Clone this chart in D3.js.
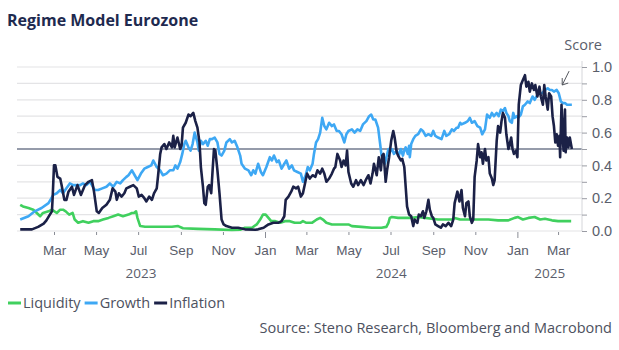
<!DOCTYPE html>
<html>
<head>
<meta charset="utf-8">
<script src="https://cdn.jsdelivr.net/npm/d3@7"></script>
<style>
  body { margin: 0; background: #fff; }
  svg { display: block; font-family: "Open Sans", sans-serif; }
</style>
</head>
<body>
<div id="chart"></div>
<script>
// [day since 2023-01-01, score]
const liquidity = [[10,.16],[14,.15],[22,.14],[29,.13],[34,.11],[39,.09],[43,.11],[51,.12],[56,.13],[63,.11],[68,.13],[72,.13],[76,.12],[81,.10],[86,.11],[89,.07],[94,.05],[101,.06],[109,.05],[116,.06],[123,.06],[130,.07],[138,.08],[145,.09],[152,.10],[159,.09],[167,.10],[172,.11],[175,.11],[178,.12],[180,.08],[184,.03],[191,.026],[210,.026],[230,.026],[239,.03],[246,.017],[268,.013],[292,.01],[317,.006],[329,.008],[336,.02],[346,.02],[353,.04],[358,.07],[362,.10],[366,.10],[370,.08],[374,.06],[380,.06],[387,.05],[394,.06],[401,.06],[408,.05],[416,.05],[420,.06],[425,.05],[433,.05],[440,.07],[445,.08],[449,.07],[454,.05],[462,.04],[469,.04],[476,.04],[486,.04],[491,.03],[505,.025],[520,.02],[534,.02],[541,.025],[544,.05],[546,.08],[549,.085],[558,.08],[568,.08],[578,.08],[587,.085],[597,.08],[607,.075],[616,.07],[626,.07],[636,.07],[640,.08],[648,.07],[660,.07],[674,.07],[689,.07],[703,.065],[718,.065],[727,.08],[732,.085],[739,.07],[747,.08],[756,.085],[764,.07],[771,.075],[781,.065],[790,.06],[800,.06],[809,.06]]

const growth = [[10,.07],[22,.09],[31,.12],[41,.14],[51,.17],[58,.22],[63,.23],[68,.25],[72,.23],[77,.26],[82,.29],[87,.28],[92,.28],[97,.28],[101,.29],[106,.28],[111,.30],[114,.28],[118,.25],[123,.25],[129,.26],[135,.27],[140,.29],[145,.27],[150,.30],[155,.29],[159,.31],[164,.33],[167,.34],[172,.37],[176,.34],[180,.31],[185,.35],[190,.38],[195,.39],[200,.40],[203,.43],[208,.39],[213,.37],[217,.34],[222,.35],[227,.37],[232,.37],[235,.40],[238,.38],[242,.42],[245,.47],[248,.53],[250,.55],[254,.51],[257,.49],[260,.53],[263,.60],[267,.54],[269,.49],[272,.55],[275,.53],[279,.55],[282,.52],[285,.56],[288,.56],[292,.57],[296,.54],[299,.47],[302,.46],[306,.49],[309,.54],[314,.56],[317,.54],[321,.55],[325,.51],[329,.46],[331,.41],[336,.38],[341,.37],[345,.34],[348,.37],[351,.35],[355,.41],[359,.36],[362,.34],[367,.39],[372,.45],[375,.43],[378,.46],[382,.42],[385,.43],[389,.38],[393,.41],[396,.43],[400,.38],[404,.40],[407,.37],[412,.36],[417,.35],[420,.30],[424,.34],[427,.39],[430,.37],[434,.41],[436,.47],[439,.54],[442,.56],[445,.60],[448,.69],[451,.64],[454,.62],[458,.66],[462,.64],[465,.65],[469,.61],[472,.61],[476,.59],[480,.54],[483,.59],[486,.61],[491,.62],[495,.60],[499,.62],[503,.61],[507,.65],[512,.67],[516,.70],[519,.71],[522,.68],[525,.68],[529,.63],[532,.53],[534,.46],[536,.45],[539,.41],[541,.45],[544,.50],[546,.48],[549,.50],[552,.47],[556,.49],[559,.46],[562,.50],[565,.46],[567,.49],[569,.51],[572,.47],[574,.52],[575,.45],[577,.53],[580,.56],[583,.58],[587,.59],[591,.62],[594,.61],[598,.58],[602,.59],[606,.58],[609,.61],[612,.58],[616,.57],[621,.56],[625,.61],[628,.58],[632,.59],[636,.62],[639,.61],[643,.63],[645,.63],[648,.66],[650,.65],[655,.66],[659,.67],[662,.69],[665,.66],[669,.67],[673,.64],[677,.63],[680,.59],[684,.62],[687,.71],[691,.69],[694,.72],[697,.70],[701,.72],[704,.70],[707,.74],[710,.73],[713,.75],[715,.72],[718,.70],[720,.67],[723,.66],[725,.72],[727,.69],[730,.70],[732,.69],[736,.71],[739,.76],[742,.77],[746,.79],[749,.78],[753,.82],[756,.80],[760,.83],[764,.84],[767,.84],[771,.86],[775,.87],[778,.86],[781,.86],[784,.85],[788,.86],[791,.84],[794,.79],[797,.78],[800,.78],[803,.77],[806,.77],[810,.77]]

const inflation = [[10,.01],[27,.01],[36,.025],[44,.045],[48,.065],[53,.10],[56,.12],[57,.20],[59,.40],[61,.40],[64,.33],[68,.32],[70,.28],[74,.19],[77,.19],[80,.24],[85,.27],[88,.22],[93,.28],[98,.22],[104,.28],[109,.30],[114,.31],[117,.24],[121,.12],[124,.11],[129,.14],[135,.16],[140,.19],[144,.26],[148,.24],[150,.19],[153,.23],[157,.21],[161,.23],[164,.26],[169,.27],[174,.28],[179,.26],[182,.21],[186,.22],[190,.20],[193,.18],[197,.21],[201,.19],[204,.23],[208,.26],[210,.34],[213,.47],[215,.51],[219,.53],[222,.50],[226,.54],[230,.51],[232,.58],[234,.51],[238,.57],[242,.50],[244,.52],[246,.63],[250,.66],[254,.71],[257,.70],[261,.72],[264,.67],[267,.63],[270,.54],[272,.39],[275,.27],[277,.17],[279,.16],[282,.27],[284,.28],[287,.23],[289,.37],[291,.50],[293,.49],[296,.37],[299,.23],[302,.07],[305,.04],[309,.03],[317,.02],[326,.02],[336,.01],[351,.008],[355,.01],[363,.02],[370,.04],[377,.05],[384,.05],[389,.06],[393,.09],[395,.19],[399,.21],[403,.24],[406,.27],[410,.26],[413,.27],[417,.21],[420,.23],[423,.29],[426,.35],[430,.32],[434,.34],[438,.33],[441,.37],[445,.35],[448,.38],[451,.35],[454,.30],[458,.32],[462,.35],[465,.38],[467,.39],[470,.47],[474,.43],[476,.39],[479,.43],[482,.40],[484,.49],[486,.36],[490,.29],[493,.27],[497,.31],[500,.28],[504,.31],[508,.28],[511,.31],[515,.34],[518,.29],[521,.35],[523,.41],[527,.34],[530,.45],[533,.37],[535,.46],[537,.47],[540,.30],[542,.37],[545,.45],[548,.55],[551,.61],[553,.57],[556,.48],[558,.46],[562,.43],[564,.44],[567,.39],[569,.27],[571,.15],[574,.10],[577,.09],[580,.03],[582,.07],[586,.05],[588,.10],[591,.09],[594,.12],[596,.08],[599,.12],[602,.19],[604,.13],[607,.09],[609,.08],[612,.04],[616,.03],[620,.02],[623,.04],[627,.03],[631,.05],[635,.03],[638,.07],[640,.17],[644,.24],[647,.18],[650,.25],[652,.14],[655,.09],[657,.17],[660,.18],[662,.09],[665,.05],[667,.07],[669,.33],[672,.43],[674,.53],[677,.45],[679,.48],[681,.41],[684,.50],[686,.43],[689,.45],[691,.35],[694,.32],[696,.28],[698,.31],[701,.55],[703,.64],[706,.60],[708,.67],[710,.72],[713,.69],[715,.59],[718,.50],[719,.51],[722,.57],[724,.50],[726,.47],[729,.49],[731,.45],[733,.77],[736,.89],[739,.92],[742,.95],[744,.88],[747,.91],[749,.85],[752,.90],[755,.86],[757,.89],[760,.82],[763,.88],[765,.82],[768,.77],[770,.89],[772,.82],[775,.74],[777,.84],[780,.82],[782,.70],[784,.64],[786,.54],[788,.59],[790,.52],[792,.58],[793,.45],[795,.77],[797,.55],[798,.49],[800,.74],[801,.48],[803,.57],[805,.51],[807,.57],[810,.50]]

const seriesNames = ["Liquidity", "Growth", "Inflation"]
const seriesColors = ["#40d05e", "#3ea8f4", "#1b2147"]
const gridTicks = [0, .1, .2, .3, .4, .5, .6, .7, .8, .9, 1]
const labelTicks = [0, .2, .4, .6, .8, 1]
const years = [2023, 2024, 2025]
const threshold = 0.5
const origin = new Date(2023, 0, 1)

const chart = function (id) {
    const width = 619
    const height = 350
    const svg = d3.select("#" + id)
        .append("svg")
        .attr("width", width)
        .attr("height", height)

    const day = d => d3.timeHour.offset(origin, Math.round(d * 24))

    const x = d3.scaleTime()
        .domain([day(5.35), day(824.7)])
        .range([17, 582])
    const y = d3.scaleLinear()
        .domain([0, 1])
        .range([231, 67])

    const layer_grid = svg.append("g")
    const layer_axes = svg.append("g")
    const layer_lines = svg.append("g")
    const layer_text = svg.append("g")

    // gridlines
    layer_grid.selectAll("line")
        .data(gridTicks)
        .enter().append("line")
        .attr("x1", x.range()[0])
        .attr("x2", x.range()[1])
        .attr("y1", d => y(d))
        .attr("y2", d => y(d))
        .attr("stroke", "#e4e4e6")
        .attr("stroke-width", 1.2)

    layer_grid.append("line")
        .attr("x1", x.range()[0])
        .attr("x2", x.range()[1])
        .attr("y1", y(threshold))
        .attr("y2", y(threshold))
        .attr("stroke", "#3b4663")
        .attr("stroke-width", 1.2)

    // x axis
    const xAxis = layer_axes.append("g")
        .attr("transform", `translate(0,${y(0) + 1})`)
        .call(d3.axisBottom(x)
            .ticks(d3.timeMonth.every(2))
            .tickFormat(d3.timeFormat("%b"))
            .tickSize(3)
            .tickPadding(6))
    xAxis.select(".domain").remove()
    xAxis.selectAll(".tick line")
        .attr("stroke", "#8a8d96")
        .attr("y2", d => d.getMonth() === 0 ? 6 : 3)
    xAxis.selectAll(".tick text")
        .attr("fill", "#5a5e6b")
        .attr("y", 13)
        .style("font-size", "13.5px")

    const [d0, d1] = x.domain()
    layer_axes.append("g")
        .selectAll("text")
        .data(years)
        .enter().append("text")
        .attr("x", yr => {
            const lo = d3.max([d0, new Date(yr, 0, 1)])
            const hi = d3.min([d1, new Date(yr + 1, 0, 1)])
            return (x(lo) + x(hi)) / 2
        })
        .attr("y", 278)
        .attr("text-anchor", "middle")
        .attr("fill", "#5a5e6b")
        .style("font-size", "13.5px")
        .text(yr => yr)

    // y axis on the right
    const yAxis = layer_axes.append("g")
        .attr("transform", `translate(${x.range()[1]},0)`)
        .call(d3.axisRight(y)
            .tickValues(gridTicks)
            .tickSize(5)
            .tickPadding(5)
            .tickFormat(d => labelTicks.some(t => Math.abs(t - d) < 1e-9) ? d3.format(".1f")(d) : ""))
    yAxis.select(".domain")
        .attr("stroke", "#d5d6da")
        .attr("d", `M0,${y(1) - 6}V${y(0)}`)
    yAxis.selectAll(".tick line").attr("stroke", "#9a9ca4")
    yAxis.selectAll(".tick text")
        .attr("fill", "#5a5e6b")
        .style("font-size", "14.5px")

    layer_axes.append("text")
        .attr("x", 602)
        .attr("y", 50)
        .attr("text-anchor", "end")
        .attr("fill", "#5a5e6b")
        .style("font-size", "14.5px")
        .text("Score")

    // series
    const line = d3.line()
        .x(d => x(day(d[0])))
        .y(d => y(d[1]))
    const allSeries = [liquidity, growth, inflation]
    layer_lines.selectAll("path")
        .data(allSeries)
        .enter().append("path")
        .attr("d", line)
        .attr("fill", "none")
        .attr("stroke", (d, i) => seriesColors[i])
        .attr("stroke-width", 2.6)
        .attr("stroke-linejoin", "round")

    // arrow annotation
    const tip = [x(day(796)), y(0.89)]
    const tail = [x(day(806)), y(0.975)]
    const ann = layer_lines.append("g")
        .attr("stroke", "#55585f")
        .attr("stroke-width", 1)
        .attr("fill", "none")
    ann.append("line")
        .attr("x1", tail[0]).attr("y1", tail[1])
        .attr("x2", tip[0]).attr("y2", tip[1])
    ann.append("path")
        .attr("d", `M${tip[0]},${tip[1] - 7}L${tip[0]},${tip[1]}L${tip[0] + 6},${tip[1] - 2}`)

    // title
    layer_text.append("text")
        .attr("x", 7)
        .attr("y", 26)
        .attr("fill", "#1e2a4f")
        .style("font-size", "16px")
        .style("font-weight", "bold")
        .text("Regime Model Eurozone")

    // legend
    const legend = layer_text.append("g")
        .attr("transform", "translate(8,303)")
    let cx = 0
    seriesNames.forEach((name, i) => {
        const g = legend.append("g").attr("transform", `translate(${cx},0)`)
        g.append("line")
            .attr("x1", 0).attr("x2", 13)
            .attr("y1", 0).attr("y2", 0)
            .attr("stroke", seriesColors[i])
            .attr("stroke-width", 3)
        const t = g.append("text")
            .attr("x", 15)
            .attr("y", 5)
            .attr("fill", "#4d5160")
            .style("font-size", "14.5px")
            .text(name)
        cx += 15 + t.node().getComputedTextLength() + 4
    })

    layer_text.append("text")
        .attr("x", 612)
        .attr("y", 333)
        .attr("text-anchor", "end")
        .attr("fill", "#4d5160")
        .style("font-size", "14.5px")
        .text("Source: Steno Research, Bloomberg and Macrobond")
}

chart("chart")
</script>
</body>
</html>
